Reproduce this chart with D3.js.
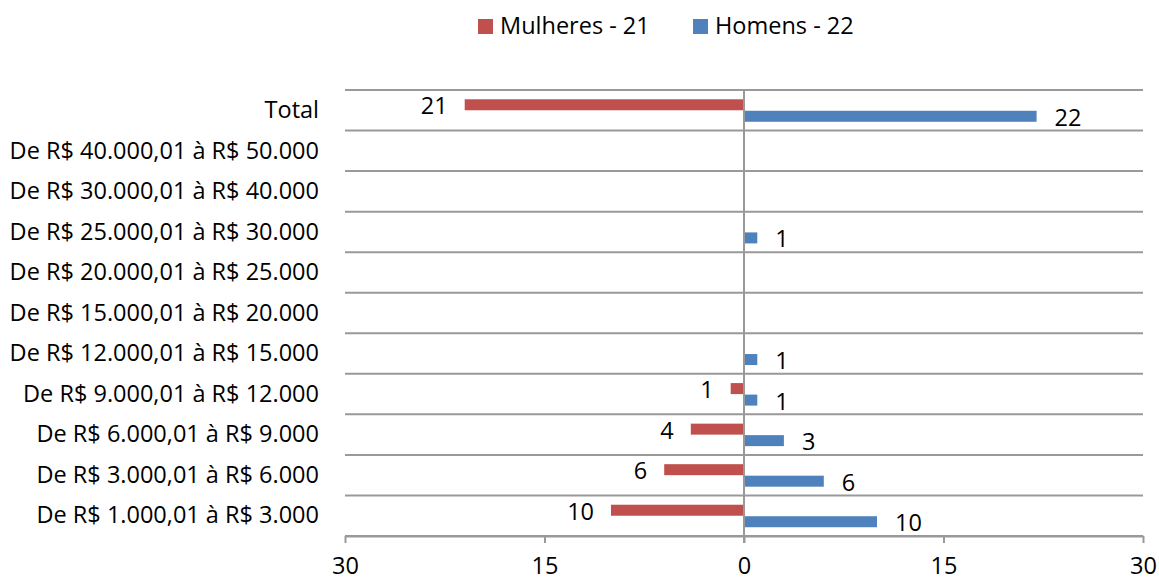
<!DOCTYPE html>
<html><head><meta charset="utf-8">
<script src="https://cdn.jsdelivr.net/npm/d3@7"></script>
<style>body{margin:0;background:#fff}svg{display:block;font-family:"Open Sans",sans-serif}</style>
</head><body><svg id="c" width="1159" height="580"></svg>
<script>
const categories = ["De R$ 1.000,01 à R$ 3.000","De R$ 3.000,01 à R$ 6.000","De R$ 6.000,01 à R$ 9.000","De R$ 9.000,01 à R$ 12.000","De R$ 12.000,01 à R$ 15.000","De R$ 15.000,01 à R$ 20.000","De R$ 20.000,01 à R$ 25.000","De R$ 25.000,01 à R$ 30.000","De R$ 30.000,01 à R$ 40.000","De R$ 40.000,01 à R$ 50.000","Total"];
const mulheres = [10,6,4,1,0,0,0,0,0,0,21];
const homens = [10,6,3,1,1,0,0,1,0,0,22];
const tickValues = [-30,-15,0,15,30];
const seriesNames = ["Mulheres - 21","Homens - 22"];
const colors = ["#C0504D","#4F81BD"];

const svg = d3.select("#c");
const x = d3.scaleLinear().domain([-30,30]).range([345,1143]);
const y = d3.scaleBand().domain(categories.slice().reverse()).range([90,536]).padding(0);
const bh = 11;
const fs = 23.5;

// gridlines
const bounds = d3.range(categories.length+1).map(i=>90+i*y.step());
svg.append("g").selectAll("line").data(bounds).join("line")
  .attr("x1",x(-30)).attr("x2",x(30)).attr("y1",d=>d).attr("y2",d=>d)
  .attr("stroke","#999").attr("stroke-width",2);

// bars
const rows = categories.map((c,i)=>({c,m:mulheres[i],h:homens[i]}));
const g = svg.append("g");
g.selectAll("rect.m").data(rows).join("rect").attr("class","m")
  .attr("x",d=>x(-d.m)).attr("width",d=>x(0)-x(-d.m))
  .attr("y",d=>y(d.c)+y.bandwidth()/2-bh).attr("height",bh).attr("fill",colors[0]);
g.selectAll("rect.h").data(rows).join("rect").attr("class","h")
  .attr("x",x(0)).attr("width",d=>x(d.h)-x(0))
  .attr("y",d=>y(d.c)+y.bandwidth()/2+0.5).attr("height",bh).attr("fill",colors[1]);

// zero axis
svg.append("line").attr("x1",x(0)).attr("x2",x(0)).attr("y1",90).attr("y2",543)
  .attr("stroke","#999").attr("stroke-width",2);

// bottom axis
const ax = svg.append("g").attr("transform","translate(0,536)")
  .call(d3.axisBottom(x).tickValues(tickValues).tickFormat(d=>Math.abs(d)).tickSize(7).tickSizeOuter(0));
ax.select(".domain").attr("stroke","#999").attr("stroke-width",2);
ax.selectAll(".tick line").attr("stroke","#999").attr("stroke-width",2);
ax.selectAll("text").attr("font-size",fs).attr("font-family","Open Sans").attr("fill","#000")
  .attr("dy",0).attr("y",37.5);

// value labels
g.selectAll("text.m").data(rows.filter(d=>d.m>0)).join("text")
  .attr("x",d=>x(-d.m)-17).attr("y",d=>y(d.c)+y.bandwidth()/2-bh/2+9.5)
  .attr("text-anchor","end").attr("font-size",fs).text(d=>d.m);
g.selectAll("text.h").data(rows.filter(d=>d.h>0)).join("text")
  .attr("x",d=>x(d.h)+18).attr("y",d=>y(d.c)+y.bandwidth()/2+bh/2+10)
  .attr("text-anchor","start").attr("font-size",fs).text(d=>d.h);

// category labels
svg.append("g").selectAll("text").data(categories).join("text")
  .attr("x",319).attr("y",d=>y(d)+y.bandwidth()/2+7.75)
  .attr("text-anchor","end").attr("font-size",fs).text(d=>d);

// legend
const leg = svg.append("g");
const lx = [478,693];
seriesNames.forEach((n,i)=>{
  leg.append("rect").attr("x",lx[i]).attr("y",19).attr("width",15).attr("height",15).attr("fill",colors[i]);
  leg.append("text").attr("x",lx[i]+22).attr("y",34.3).attr("font-size",fs).text(n);
});
</script></body></html>
